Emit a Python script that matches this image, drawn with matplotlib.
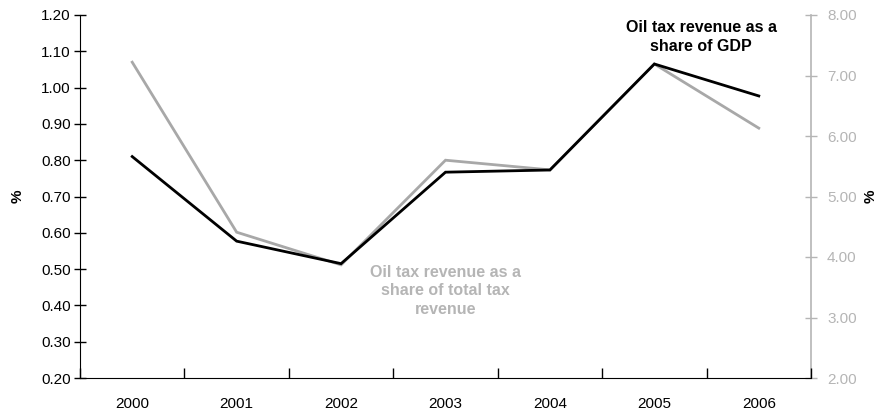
import matplotlib.pyplot as plt
import numpy as np

plt.rcParams['font.family'] = ['Liberation Sans', 'DejaVu Sans']

years = ['2000', '2001', '2002', '2003', '2004', '2005', '2006']
share_gdp = [0.81, 0.577, 0.515, 0.767, 0.773, 1.065, 0.977]      # left axis
share_tax = [7.22, 4.41, 3.87, 5.60, 5.44, 7.19, 6.13]            # right axis

grey = '#a8a8a8'
light_grey = '#b5b5b5'
x = np.arange(len(years))

fig = plt.figure(figsize=(8.79, 4.13), dpi=100)
ax1 = fig.add_axes([80/879, 35/413, 731/879, 363/413])
ax2 = ax1.twinx()

ax2.plot(x, share_tax, color=grey, lw=2.0, solid_joinstyle='miter')
ax1.plot(x, share_gdp, color='black', lw=2.0, solid_joinstyle='miter')
# black line drawn on top of the grey one
ax1.set_zorder(ax2.get_zorder() + 1)
ax1.patch.set_visible(False)

ax1.set_xlim(-0.5, len(years) - 0.5)
ax1.set_ylim(0.2, 1.2)
ax1.set_yticks(np.arange(0.2, 1.21, 0.1))
ax1.set_yticklabels(['%.2f' % v for v in np.arange(0.2, 1.21, 0.1)], fontsize=11)
ax2.set_ylim(2, 8)
ax2.set_yticks(np.arange(2, 8.1, 1))
ax2.set_yticklabels(['%.2f' % v for v in np.arange(2, 8.1, 1)], fontsize=11, color=light_grey)

# category labels in the middle, tick marks between categories
ax1.set_xticks(x)
ax1.set_xticklabels(years, fontsize=11)
ax1.tick_params(axis='x', which='major', length=0, pad=14)
ax1.set_xticks(np.arange(-0.5, len(years), 1), minor=True)
ax1.tick_params(axis='x', which='minor', direction='in', length=7, width=1)
ax1.tick_params(axis='y', direction='inout', length=9, width=1, pad=2)
ax2.tick_params(axis='y', direction='inout', length=9, width=1, color=light_grey, pad=7)

ax1.spines['top'].set_visible(False)
ax2.spines['top'].set_visible(False)
ax2.spines['left'].set_visible(False)
ax2.spines['bottom'].set_visible(False)
ax1.spines['right'].set_visible(False)
ax2.spines['right'].set_color(light_grey)
ax2.spines['right'].set_linewidth(1.2)

ax1.set_ylabel('%', fontsize=11, fontweight='bold', labelpad=12)
ax2.set_ylabel('%', fontsize=11, fontweight='bold', labelpad=5, rotation=90)

ax1.text(5.45, 1.14, 'Oil tax revenue as a\nshare of GDP', ha='center', va='center',
         fontsize=11.5, fontweight='bold', color='black', linespacing=1.3)
ax1.text(3.0, 0.44, 'Oil tax revenue as a\nshare of total tax\nrevenue', ha='center',
         va='center', fontsize=11.5, fontweight='bold', color=light_grey, linespacing=1.3)

fig.savefig('out.png', dpi=100)
